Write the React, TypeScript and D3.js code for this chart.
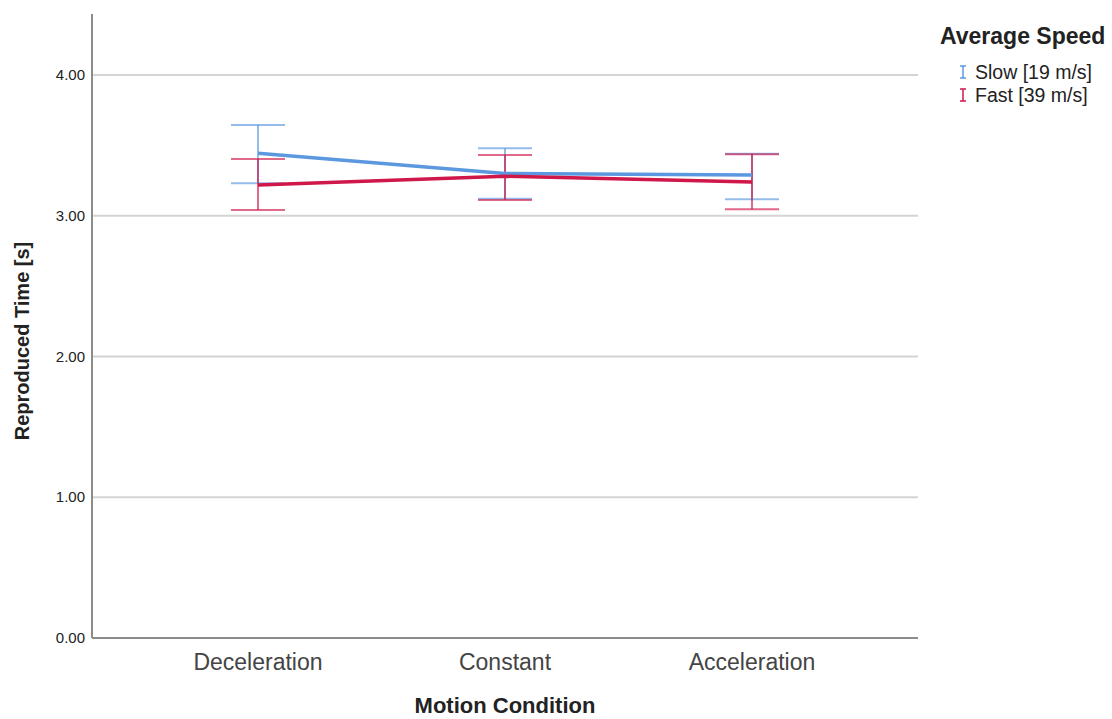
import React from "react";
import * as d3 from "d3";

const categories = ["Deceleration", "Constant", "Acceleration"];
const seriesNames = ["Slow [19 m/s]", "Fast [39 m/s]"];
const slowMean = [3.444, 3.30, 3.29];
const slowLow = [3.23, 3.12, 3.117];
const slowHigh = [3.645, 3.479, 3.44];
const fastMean = [3.218, 3.28, 3.24];
const fastLow = [3.04, 3.112, 3.046];
const fastHigh = [3.403, 3.432, 3.436];
const yTicks = [0, 1, 2, 3, 4];

const colors = ["#5b98e0", "#d0174a"];

export default function App() {
  const W = 1112, H = 719;
  const left = 92, right = 918, top = 14, bottom = 638;
  const y = d3.scaleLinear().domain([0, 4.433]).range([bottom, top]);
  const x = d3.scalePoint<string>().domain(categories).range([left, right]).padding(0.672);
  const series = [
    { name: seriesNames[0], mean: slowMean, lo: slowLow, hi: slowHigh, color: colors[0] },
    { name: seriesNames[1], mean: fastMean, lo: fastLow, hi: fastHigh, color: colors[1] },
  ];
  const line = d3.line<number>().x((_, i) => x(categories[i])!).y((d) => y(d));
  const font = "'Liberation Sans', Arial, sans-serif";
  const capW = 27;
  return (
    <svg width={W} height={H} style={{ position: "absolute", left: 0, top: 0, fontFamily: font }}>
      <rect width={W} height={H} fill="#fff" />
      {yTicks.filter((t) => t > 0).map((t) => (
        <line key={t} x1={left} x2={right} y1={y(t)} y2={y(t)} stroke="#d4d4d4" strokeWidth={2} />
      ))}
      <line x1={left} x2={left} y1={top} y2={bottom} stroke="#8c8c8c" strokeWidth={2} />
      <line x1={left} x2={right} y1={bottom} y2={bottom} stroke="#8c8c8c" strokeWidth={2} />
      {yTicks.map((t) => (
        <text key={t} x={left - 7} y={y(t)} dy="0.35em" textAnchor="end" fontSize={15} fill="#222">
          {t.toFixed(2)}
        </text>
      ))}
      {categories.map((c) => (
        <text key={c} x={x(c)} y={670} textAnchor="middle" fontSize={23} fill="#444">
          {c}
        </text>
      ))}
      <text x={505} y={713} textAnchor="middle" fontSize={22} fontWeight="bold" fill="#222">
        Motion Condition
      </text>
      <text transform={`translate(29,${341}) rotate(-90)`} textAnchor="middle" fontSize={20} fontWeight="bold" fill="#222">
        Reproduced Time [s]
      </text>
      {series.map((s) => (
        <g key={s.name}>
          {categories.map((c, i) => {
            const cx = x(c)!;
            return (
              <g key={c} stroke={s.color} strokeOpacity={0.65} strokeWidth={2}>
                <line x1={cx} x2={cx} y1={y(s.lo[i])} y2={y(s.hi[i])} />
                <line x1={cx - capW} x2={cx + capW} y1={y(s.lo[i])} y2={y(s.lo[i])} />
                <line x1={cx - capW} x2={cx + capW} y1={y(s.hi[i])} y2={y(s.hi[i])} />
              </g>
            );
          })}
        </g>
      ))}
      {series.map((s) => (
        <path key={s.name} d={line(s.mean)!} fill="none" stroke={s.color} strokeWidth={3.5} />
      ))}
      <text x={940} y={44} fontSize={23} fontWeight="bold" fill="#222">
        Average Speed
      </text>
      {series.map((s, i) => {
        const ly = 72 + i * 23;
        return (
          <g key={s.name}>
            <g stroke={s.color} strokeWidth={1.5}>
              <line x1={963} x2={963} y1={ly - 6} y2={ly + 6} />
              <line x1={960} x2={966} y1={ly - 6} y2={ly - 6} />
              <line x1={960} x2={966} y1={ly + 6} y2={ly + 6} />
            </g>
            <text x={975} y={ly} dy="0.35em" fontSize={19.5} fill="#222">
              {s.name}
            </text>
          </g>
        );
      })}
    </svg>
  );
}
